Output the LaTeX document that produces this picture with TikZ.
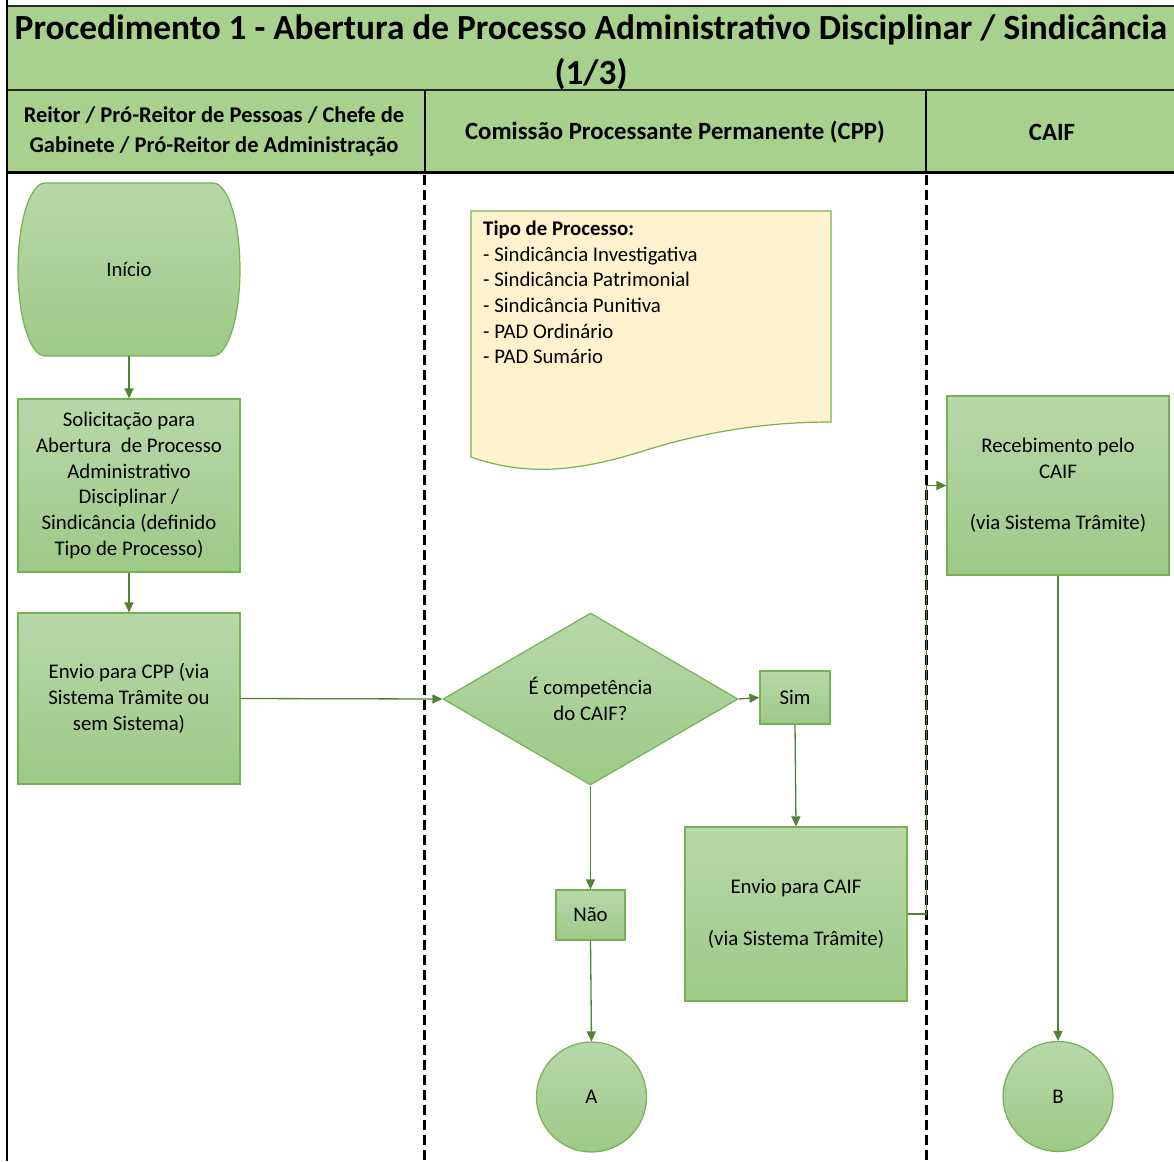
\documentclass[tikz,border=0pt]{standalone}
\usepackage{fontspec}
\setmainfont{Carlito}
\usetikzlibrary{arrows.meta,shapes.geometric}
\definecolor{cab}{HTML}{A9D18E}
\definecolor{gtop}{HTML}{B7D8A9}
\definecolor{gbot}{HTML}{9EC986}
\definecolor{borda}{HTML}{76B153}
\definecolor{seta}{HTML}{548235}
\definecolor{nota}{HTML}{FFF2CC}
\tikzset{txt/.style={align=center,inner sep=0pt,font=\fontsize{20.8}{25.8}\selectfont},
base/.style={txt,draw=borda,line width=1.2pt,top color=gtop,bottom color=gbot},
etapa/.style={base,rectangle,minimum width=222pt,minimum height=173pt},
rotulo/.style={base,rectangle,minimum width=70pt,minimum height=52pt},
decisao/.style={base,diamond,minimum width=295pt,minimum height=172pt},
conector/.style={base,circle,minimum size=110pt},
fluxo/.style={-{Triangle[length=10pt,width=9pt]},draw=seta,line width=1.3pt},
raia/.style={line width=3pt,dash pattern=on 10pt off 5pt},
cabtxt/.style={font=\bfseries\fontsize{22.5}{30}\selectfont,align=center}}
\begin{document}
\begin{tikzpicture}[x=1pt,y=-1pt]
\useasboundingbox (0,0) rectangle (1174,1161);
\clip (0,0) rectangle (1174,1161);
% cabecalho
\fill[cab] (7,6) rectangle (1185,173);
\draw[line width=1.5pt,black!85] (7,6) -- (1185,6) (7,90) -- (1185,90);
\draw[line width=2pt] (425,90) -- (425,173) (926,90) -- (926,173);
\draw[line width=3pt] (7,173) -- (1185,173);
\draw[line width=2pt] (7,0) -- (7,1161);
\node[font=\bfseries\fontsize{35.3}{45}\selectfont,align=center] (titulo) at (591,52) {Procedimento 1 - Abertura de Processo Administrativo Disciplinar / Sindicância\\(1/3)};
\node[cabtxt] (raia1) at (214,131) {Reitor / Pró-Reitor de Pessoas / Chefe de\\Gabinete / Pró-Reitor de Administração};
\node[cabtxt,font=\bfseries\fontsize{24.8}{30}\selectfont] (raia2) at (675,132) {Comissão Processante Permanente (CPP)};
\node[cabtxt,font=\bfseries\fontsize{24.8}{30}\selectfont] (raia3) at (1052,132) {CAIF};
% raias
\draw[raia] (424,175) -- (424,1161);
\draw[raia] (926,175) -- (926,1161);
% inicio
\shade[top color=gtop,bottom color=gbot,draw=borda,line width=1.2pt] (45,183) -- (213,183)
  .. controls (228,183) and (240,222) .. (240,269.5) .. controls (240,317) and (228,356) .. (213,356)
  -- (45,356) .. controls (30,356) and (18,317) .. (18,269.5) .. controls (18,222) and (30,183) .. (45,183) -- cycle;
\node[txt,minimum width=222pt,minimum height=173pt] (inicio) at (129,269.5) {Início};
\node[etapa] (solic) at (129,485.5) {Solicitação para\\Abertura\ \ de Processo\\Administrativo\\Disciplinar /\\Sindicância (definido\\Tipo de Processo)};
\node[etapa,minimum height=171pt] (envcpp) at (129,698.5) {Envio para CPP (via\\Sistema Trâmite ou\\sem Sistema)};
% nota
\filldraw[fill=nota,draw=borda,line width=1.2pt] (471,211) -- (831,211) -- (831,422)
  .. controls (780,422) and (715,428) .. (640,452) .. controls (575,472) and (525,476) .. (471,457) -- cycle;
\node[anchor=north west,align=left,inner sep=0pt,font=\fontsize{20.8}{25.6}\selectfont] (tipos) at (483,221)
  {\textbf{Tipo de Processo:}\\- Sindicância Investigativa\\- Sindicância Patrimonial\\- Sindicância Punitiva\\- PAD Ordinário\\- PAD Sumário};
\node[decisao] (comp) at (590.5,699) {É competência\\do CAIF?};
\node[rotulo,minimum height=53pt] (sim) at (795,697.5) {Sim};
\node[rotulo,minimum width=69pt,minimum height=50pt] (nao) at (590.5,915) {Não};
\node[etapa,minimum height=174pt] (envcaif) at (796,914) {Envio para CAIF\\[25.8pt](via Sistema Trâmite)};
\node[etapa,minimum height=179pt] (receb) at (1058,485.5) {Recebimento pelo\\CAIF\\[25.8pt](via Sistema Trâmite)};
\node[conector] (a) at (591.5,1097) {A};
\node[conector] (b) at (1058,1096.5) {B};
% fluxos
\draw[fluxo] (inicio.south) -- (solic.north);
\draw[fluxo] (solic.south) -- (envcpp.north);
\draw[fluxo] (envcpp.east) -- (comp.west);
\draw[fluxo] (comp.east) -- (sim.west);
\draw[fluxo] (comp.south) -- (nao.north);
\draw[fluxo] (nao.south) -- (a.north);
\draw[fluxo] (sim.south) -- (envcaif.north);
\draw[fluxo] (envcaif.east) -- ++(19,0) |- (receb.west);
\draw[fluxo] (receb.south) -- (b.north);
\end{tikzpicture}
\end{document}
